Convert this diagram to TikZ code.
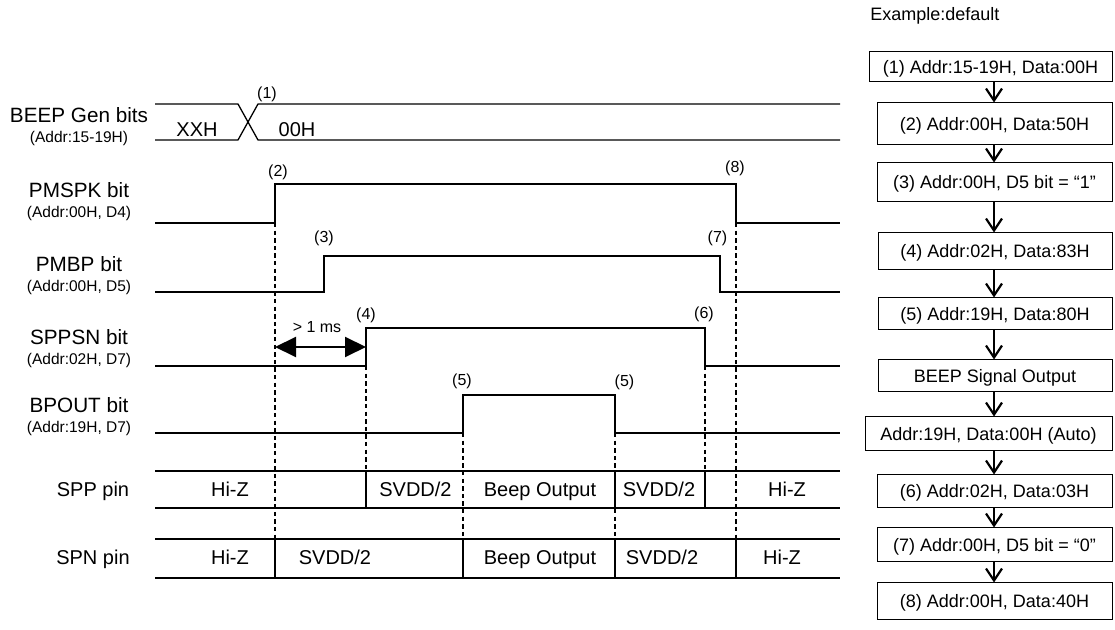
\documentclass[tikz,border=0pt]{standalone}
\usepackage{fontspec}
\setmainfont{Liberation Sans}
\usetikzlibrary{arrows.meta}

\begin{document}
\begin{tikzpicture}[
  x=0.5pt,
  y=-0.5pt,
  sig/.style={draw=black,line width=0.65pt},
  guide/.style={draw=black,line width=0.55pt,dash pattern=on 2.2pt off 1.6pt},
  cell/.style={draw=black,line width=0.6pt},
  sname/.style={font=\fontsize{10.35}{12}\selectfont,anchor=base,inner sep=0pt},
  saddr/.style={font=\fontsize{7.75}{9}\selectfont,anchor=base,inner sep=0pt},
  evt/.style={font=\fontsize{8}{9.6}\selectfont,inner sep=0pt},
  pin/.style={font=\fontsize{10}{12}\selectfont,anchor=base,inner sep=0pt},
  stepbox/.style={draw=black,line width=0.5pt,font=\fontsize{9}{11}\selectfont,
    inner sep=0pt,text height=6.5pt,text depth=0pt,minimum width=117.5pt},
  flow/.style={-{Straight Barb[length=6pt,width=8pt]},line width=1.1pt},
  gap/.style={{Triangle[length=10.5pt,width=10pt]}-{Triangle[length=10.5pt,width=10pt]},line width=1pt}
]
\useasboundingbox (0,0) rectangle (1115,630);

% signal names
\foreach \id/\sn/\sa/\sy in {
  gen/BEEP Gen bits/{(Addr:15-19H)}/123,
  pmspk/PMSPK bit/{(Addr:00H, D4)}/198,
  pmbp/PMBP bit/{(Addr:00H, D5)}/271.5,
  sppsn/SPPSN bit/{(Addr:02H, D7)}/345,
  bpout/BPOUT bit/{(Addr:19H, D7)}/413} {
  \node[sname] (name-\id) at (79,\sy) {\sn};
  \node[saddr] (addr-\id) at (79,\sy+20) {\sa};
}

% waveforms
\draw[sig] (155,104) -- (238,104) -- (258,140) -- (840,140);
\draw[sig] (155,140) -- (238,140) -- (258,104) -- (840,104);
\node[pin] (bus-old) at (197,137) {XXH};
\node[pin] (bus-new) at (297,137) {00H};

\draw[sig] (155,223) -- (275,223) -- (275,184) -- (736,184) -- (736,223) -- (840,223);
\draw[sig] (155,292) -- (324,292) -- (324,256) -- (720,256) -- (720,292) -- (840,292);
\draw[sig] (155,366) -- (366,366) -- (366,328) -- (705,328) -- (705,366) -- (840,366);
\draw[sig] (155,433) -- (463,433) -- (463,395) -- (615,395) -- (615,433) -- (840,433);

\foreach \id/\n/\ex/\ey in {e1/1/267/94, e2/2/278/172.5, e3/3/324/238,
  e4/4/366/315, e5a/5/462/381, e5b/5/624.5/382, e6/6/704/314,
  e7/7/717.5/238.5, e8/8/735/168.5} {
  \node[evt] (\id) at (\ex,\ey) {(\n)};
}

% guides
\draw[guide] (275,223) -- (275,539);
\draw[guide] (366,366) -- (366,471);
\draw[guide] (463,433) -- (463,539);
\draw[guide] (615,433) -- (615,539);
\draw[guide] (705,366) -- (705,471);
\draw[guide] (736,223) -- (736,539);

\coordinate (gapL) at (275,347);
\coordinate (gapR) at (366,347);
\draw[gap] (gapL) -- (gapR);
\node[evt] (gaptxt) at (317,327) {> 1 ms};

% pin rows
\draw[cell] (155,471) -- (840,471) (155,508) -- (840,508);
\draw[cell] (155,539) -- (840,539) (155,578) -- (840,578);
\foreach \x in {366,615,705} \draw[cell] (\x,471) -- (\x,508);
\foreach \x in {275,463,615,736} \draw[cell] (\x,539) -- (\x,578);

\node[pin] (spp) at (93,497) {SPP pin};
\node[pin] (spp-1) at (230,497) {Hi-Z};
\node[pin] (spp-2) at (415.5,497) {SVDD/2};
\node[pin] (spp-3) at (540,497) {Beep Output};
\node[pin] (spp-4) at (659,497) {SVDD/2};
\node[pin] (spp-5) at (787,497) {Hi-Z};

\node[pin] (spn) at (93,565) {SPN pin};
\node[pin] (spn-1) at (230,565) {Hi-Z};
\node[pin] (spn-2) at (335,565) {SVDD/2};
\node[pin] (spn-3) at (540,565) {Beep Output};
\node[pin] (spn-4) at (662,565) {SVDD/2};
\node[pin] (spn-5) at (782,565) {Hi-Z};

% register sequence
\node[font=\fontsize{9}{11}\selectfont,anchor=base west,inner sep=0pt] (ex) at (870,21) {Example:default};
\node[stepbox,minimum width=121.5pt,minimum height=15pt] (s1) at (990.5,67) {(1) Addr:15-19H, Data:00H};
\node[stepbox,minimum height=21pt] (s2) at (994.5,124) {(2) Addr:00H, Data:50H};
\node[stepbox,minimum height=19.5pt] (s3) at (994.5,182.5) {(3) Addr:00H, D5 bit = “1”};
\node[stepbox,minimum width=117pt,minimum height=18.5pt] (s4) at (995,251.5) {(4) Addr:02H, Data:83H};
\node[stepbox,minimum width=117pt,minimum height=16pt] (s5) at (995,314) {(5) Addr:19H, Data:80H};
\node[stepbox,minimum width=117pt,minimum height=16pt] (sbeep) at (995,376) {BEEP Signal Output};
\node[stepbox,minimum width=123.5pt,minimum height=17pt] (sauto) at (988.5,434) {Addr:19H, Data:00H (Auto)};
\node[stepbox,minimum height=16.5pt] (s6) at (994.5,491.5) {(6) Addr:02H, Data:03H};
\node[stepbox,minimum height=17pt] (s7) at (994.5,545) {(7) Addr:00H, D5 bit = “0”};
\node[stepbox,minimum height=18.5pt] (s8) at (994.5,601.5) {(8) Addr:00H, Data:40H};

\coordinate (fx) at (994,0);
\foreach \a/\b in {s1/s2,s2/s3,s3/s4,s4/s5,s5/sbeep,sbeep/sauto,sauto/s6,s6/s7,s7/s8}
  \draw[flow] (\a.south -| fx) -- (\b.north -| fx);
\end{tikzpicture}
\end{document}
